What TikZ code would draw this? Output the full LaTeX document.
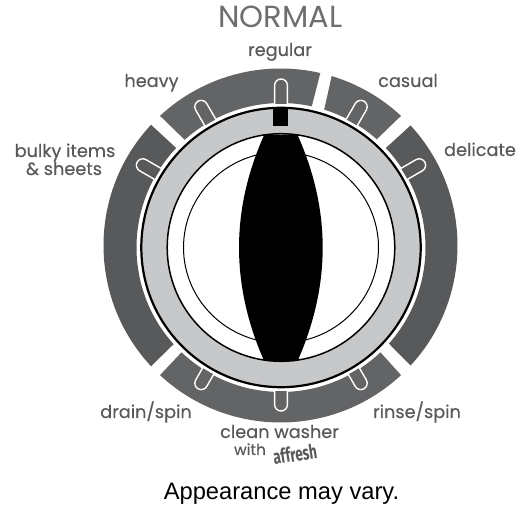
\documentclass[tikz,border=0pt]{standalone}
\usepackage{fontspec}
\usetikzlibrary{calc}
\setmainfont{Poppins}
\newfontfamily\lblfont[FakeBold=0.25]{Poppins}
\newfontfamily\capfont{Liberation Sans}
\newfontfamily\logofont{Fira Sans}
\definecolor{segA}{HTML}{636466}
\definecolor{segB}{HTML}{58595B}
\definecolor{ringgrey}{HTML}{C7C8CA}
\definecolor{labelgrey}{HTML}{58595B}
\definecolor{titlegrey}{HTML}{6D6E71}
\tikzset{
  lbl/.style={anchor=base,inner sep=0pt,text=labelgrey,font=\lblfont\fontsize{17.7}{20}\selectfont},
  slotshape/.style={draw=white,line width=1.4pt}
}
\newcommand{\segm}[5]{%
  \fill[#1] ($(O)+(#2:177)$) arc[start angle=#2,end angle=#3,radius=177]
    -- ($(I)+(#4:144.5)$) arc[start angle=#4,end angle=#5,radius=144.5] -- cycle;}
\newcommand{\slotat}[2]{%
  \begin{scope}[shift={(S)},rotate=#1]
    \filldraw[slotshape,fill=#2] (136,-6.4) -- (159.6,-6.4) arc[start angle=-90,end angle=90,radius=6.4] -- (136,6.4);
  \end{scope}}
\begin{document}
\begin{tikzpicture}[x=1pt,y=1pt]
\useasboundingbox (0,0) rectangle (522,508);
\fill[white] (0,0) rectangle (522,508);
\coordinate (O) at (280.5,262.5);
\coordinate (I) at (281,260.5);
\coordinate (S) at (281,263);
% outer segments
\segm{segA}{132.9}{77}{77.7}{131.8}
\segm{segA}{73.2}{47.1}{48.5}{72.6}
\segm{segB}{42.7}{-42.7}{-41.7}{43.5}
\segm{segA}{-47.1}{-132.9}{-133.5}{-46.5}
\segm{segB}{137}{223}{222}{136.5}
% slots
\slotat{90}{segA}\slotat{120}{segA}\slotat{60}{segA}
\slotat{150}{segB}\slotat{30}{segB}
\slotat{240}{segA}\slotat{270}{segA}\slotat{300}{segA}
% dial
\fill[white] (I) circle[radius=143.5];
\filldraw[fill=ringgrey,draw=black,line width=2.2pt] (I) circle[radius=139.7];
\filldraw[fill=white,draw=black,line width=1.5pt] (I) circle[radius=113.8];
\draw[black,line width=1pt] (I) ellipse[x radius=97.5,y radius=95.5];
% pointer
\fill[black] (264,372.7) .. controls (270,373.6) and (292,373.6) .. (297.7,372.7)
  .. controls (331,298) and (331,223) .. (297.7,147.3)
  .. controls (292,146.4) and (270,146.4) .. (264,147.3)
  .. controls (230.7,223) and (230.7,298) .. (264,372.7) -- cycle;
\fill[black] (273.3,382) rectangle (288.3,398.7);
% labels
\node[lbl,text=titlegrey,font=\fontsize{30.5}{33}\selectfont] (normal) at (280.5,480) {NORMAL};
\node[lbl] (regular) at (280,452) {regular};
\node[lbl] (heavy) at (151.5,421) {heavy};
\node[lbl] (casual) at (408,421) {casual};
\node[lbl] (bulky) at (65,351) {bulky items};
\node[lbl] (sheets) at (64,333) {\& sheets};
\node[lbl] (delicate) at (480,352) {delicate};
\node[lbl] (drain) at (146,90) {drain/spin};
\node[lbl] (rinse) at (417,90) {rinse/spin};
\node[lbl] (clean) at (279.5,70) {clean washer};
\node[lbl,font=\lblfont\fontsize{15.4}{18}\selectfont] (with) at (250,53) {with};
\node[lbl,anchor=center,rotate=9] (affresh) at (295,54) {\scalebox{0.68}[1]{\logofont\bfseries\fontsize{20}{22}\selectfont affresh}};
\node[anchor=base,inner sep=0pt,text=black,font=\capfont\fontsize{23.7}{26}\selectfont] (note) at (281.5,8) {Appearance may vary.};
\end{tikzpicture}
\end{document}
